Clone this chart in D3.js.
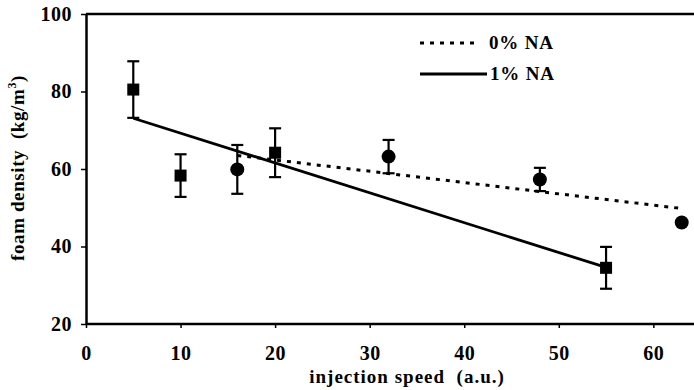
<!DOCTYPE html>
<html><head><meta charset="utf-8">
<script src="https://cdn.jsdelivr.net/npm/d3@7"></script>
<style>body{margin:0;background:#fff}svg{display:block}</style>
</head><body>
<script>
// 1% NA (squares)
const sqX = [5, 10, 20, 55];
const sqY = [80.5, 58.3, 64.2, 34.5];
const sqErr = [7.3, 5.5, 6.3, 5.4];
// 0% NA (circles)
const ciX = [16, 32, 48, 63];
const ciY = [59.9, 63.2, 57.3, 46.2];
const ciErr = [6.3, 4.3, 3.0, 0];
// fitted lines
const fit1X = [5, 55], fit1Y = [73.1, 34.6];
const fit0X = [16, 63], fit0Y = [63.5, 49.8];
const xTicks = [0, 10, 20, 30, 40, 50, 60];
const yTicks = [20, 40, 60, 80, 100];
const legendLabels = ["0% NA", "1% NA"];

const FONT = '"Liberation Serif"';
const W = 694, H = 390;
const svg = d3.select("body").append("svg").attr("width", W).attr("height", H);
const x = d3.scaleLinear().domain([0, 64.3]).range([86, 694]);
const y = d3.scaleLinear().domain([20, 100]).range([324, 14]);

function txt(sel, size, ls) {
  return sel.attr("font-family", FONT).attr("font-weight", "bold").attr("font-size", size).attr("fill", "#000")
    .attr("letter-spacing", ls || 0);
}

// frame top
svg.append("line").attr("x1", x(0)).attr("x2", W).attr("y1", y(100)).attr("y2", y(100)).attr("stroke", "#000").attr("stroke-width", 2.5);

const gx = svg.append("g").attr("transform", `translate(0,${y(20)})`)
  .call(d3.axisBottom(x).tickValues(xTicks).tickSize(4).tickPadding(18).tickSizeOuter(0));
const gy = svg.append("g").attr("transform", `translate(${x(0)},0)`)
  .call(d3.axisLeft(y).tickValues(yTicks).tickSize(5).tickPadding(9).tickSizeOuter(0));
[gx, gy].forEach(g => {
  g.attr("font-family", null).attr("font-size", null);
  txt(g.selectAll(".tick text"), 20, 0.5);
  g.select(".domain").attr("stroke-width", 2.5);
  g.selectAll(".tick line").attr("stroke-width", 1.5);
});
gx.select(".domain").attr("d", `M${x(0)},0H${W}`);

// lines
const ln = d3.line().x(d => x(d[0])).y(d => y(d[1]));
svg.append("path").attr("d", ln(fit1X.map((v, i) => [v, fit1Y[i]])))
  .attr("stroke", "#000").attr("stroke-width", 2.8).attr("fill", "none");
svg.append("path").attr("d", ln(fit0X.map((v, i) => [v, fit0Y[i]])))
  .attr("stroke", "#000").attr("stroke-width", 3).attr("stroke-dasharray", "4,6").attr("fill", "none");

// error bars
function errbars(xs, ys, es) {
  xs.forEach((xv, i) => {
    if (!es[i]) return;
    const g = svg.append("g").attr("stroke", "#000").attr("stroke-width", 2.2);
    g.append("line").attr("x1", x(xv)).attr("x2", x(xv)).attr("y1", y(ys[i] + es[i])).attr("y2", y(ys[i] - es[i]));
    [es[i], -es[i]].forEach(e => g.append("line").attr("x1", x(xv) - 6).attr("x2", x(xv) + 6).attr("y1", y(ys[i] + e)).attr("y2", y(ys[i] + e)));
  });
}
errbars(sqX, sqY, sqErr);
errbars(ciX, ciY, ciErr);

sqX.forEach((xv, i) => svg.append("rect").attr("x", x(xv) - 6).attr("y", y(sqY[i]) - 6).attr("width", 12).attr("height", 12).attr("fill", "#000"));
ciX.forEach((xv, i) => svg.append("circle").attr("cx", x(xv)).attr("cy", y(ciY[i])).attr("r", 7).attr("fill", "#000"));

// legend
svg.append("line").attr("x1", 420).attr("x2", 480).attr("y1", 43).attr("y2", 43).attr("stroke", "#000").attr("stroke-width", 3).attr("stroke-dasharray", "4,6");
txt(svg.append("text").attr("x", 489).attr("y", 49), 19, 0.8).text(legendLabels[0]);
svg.append("line").attr("x1", 420).attr("x2", 487).attr("y1", 74).attr("y2", 74).attr("stroke", "#000").attr("stroke-width", 2.8);
txt(svg.append("text").attr("x", 490).attr("y", 80), 19, 0.8).text(legendLabels[1]);

// axis titles
txt(svg.append("text").attr("x", 407).attr("y", 383).attr("text-anchor", "middle").attr("xml:space", "preserve"), 19, 1).text("injection speed  (a.u.)");
const yt = txt(svg.append("text").attr("transform", "translate(24,168) rotate(-90)").attr("text-anchor", "middle").attr("xml:space", "preserve"), 19, 0.6);
yt.append("tspan").text("foam density  (kg/m");
yt.append("tspan").attr("dy", -8).attr("font-size", 12).text("3");
yt.append("tspan").attr("dy", 8).text(")");
</script>
</body></html>
